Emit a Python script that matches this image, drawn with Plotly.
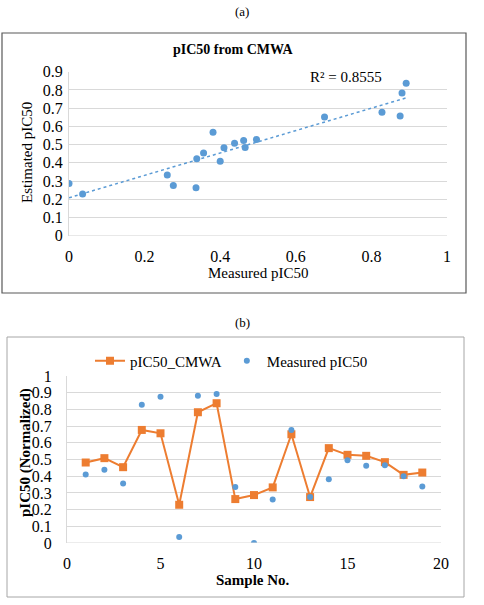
import plotly.graph_objects as go
import numpy as np

# sample numbers and values
samples = list(range(1, 20))
pic50_cmwa = [0.482, 0.508, 0.454, 0.677, 0.657, 0.229, 0.783, 0.837, 0.263, 0.287,
              0.333, 0.651, 0.275, 0.568, 0.528, 0.522, 0.484, 0.408, 0.422]
measured = [0.410, 0.438, 0.356, 0.828, 0.876, 0.036, 0.881, 0.892, 0.336, 0.0,
            0.260, 0.676, 0.276, 0.381, 0.496, 0.462, 0.466, 0.400, 0.338]
r2_label = "R² = 0.8555"

blue = "#5B9BD5"
orange = "#ED7D31"
grid = "#D9D9D9"
serif = "Liberation Serif"

W, H = 484, 605
def px(x):
    return x / W
def py(y):
    return 1 - y / H

def label(text, x, y, size=15, angle=0):
    return dict(text=text, xref="paper", yref="paper", x=px(x), y=py(y), showarrow=False,
                xanchor="center", yanchor="middle", textangle=angle,
                font=dict(family=serif, size=size, color="#000000"))

fig = go.Figure()

# (a) scatter + linear trend
fig.add_trace(go.Scatter(x=measured, y=pic50_cmwa, mode="markers",
                         marker=dict(color=blue, size=7), showlegend=False,
                         xaxis="x", yaxis="y"))
slope, icpt = np.polyfit(measured, pic50_cmwa, 1)
xs = [min(measured), max(measured)]
fig.add_trace(go.Scatter(x=xs, y=[slope * v + icpt for v in xs], mode="lines",
                         line=dict(color=blue, width=1.5, dash="dot"), showlegend=False,
                         xaxis="x", yaxis="y"))

# (b) line + measured dots
fig.add_trace(go.Scatter(x=samples, y=pic50_cmwa, mode="lines+markers", name="pIC50_CMWA",
                         line=dict(color=orange, width=2),
                         marker=dict(symbol="square", size=8, color=orange),
                         xaxis="x2", yaxis="y2"))
fig.add_trace(go.Scatter(x=samples, y=measured, mode="markers", name="Measured pIC50",
                         marker=dict(color=blue, size=6),
                         xaxis="x2", yaxis="y2"))

tick_font = dict(family=serif, size=16, color="#000000")

fig.update_layout(
    width=W, height=H,
    margin=dict(l=0, r=0, t=0, b=0),
    paper_bgcolor="white", plot_bgcolor="white",
    font=dict(family=serif, size=15, color="#000000"),
    xaxis=dict(domain=[px(69), px(447)], range=[0, 1], dtick=0.2, anchor="y",
               showgrid=False, zeroline=False, showline=False, automargin=False,
               tickfont=tick_font, ticks="", ticklabelstandoff=9),
    yaxis=dict(domain=[py(235.7), py(71.7)], range=[0, 0.9], dtick=0.1, anchor="x",
               showgrid=True, gridcolor=grid, gridwidth=1, zeroline=False, automargin=False,
               showline=True, linecolor=grid, linewidth=1,
               tickfont=tick_font, ticks="", tickformat="~g", ticklabelstandoff=2),
    xaxis2=dict(domain=[px(67), px(441)], range=[0, 20], dtick=5, anchor="y2",
                showgrid=False, zeroline=False, showline=False, automargin=False,
                tickfont=tick_font, ticks="", ticklabelstandoff=9),
    yaxis2=dict(domain=[py(543), py(376)], range=[0, 1], dtick=0.1, anchor="x2",
                showgrid=True, gridcolor=grid, gridwidth=1, zeroline=False, automargin=False,
                showline=True, linecolor=grid, linewidth=1,
                tickfont=tick_font, ticks="", tickformat="~g", ticklabelstandoff=11),
    legend=dict(orientation="h", x=px(90), y=py(361), xanchor="left", yanchor="middle",
                font=dict(family=serif, size=15), bgcolor="rgba(0,0,0,0)", itemwidth=30),
    shapes=[
        # x axis lines at zero
        dict(type="line", xref="x", yref="y", x0=0, x1=1, y0=0, y1=0,
             line=dict(color=grid, width=1)),
        dict(type="line", xref="x2", yref="y2", x0=0, x1=20, y0=0, y1=0,
             line=dict(color=grid, width=1)),
        # panel borders
        dict(type="rect", xref="paper", yref="paper", x0=px(2), x1=px(466), y0=py(293), y1=py(33),
             line=dict(color="#595959", width=1.2)),
        dict(type="rect", xref="paper", yref="paper", x0=px(7), x1=px(464), y0=py(597), y1=py(337),
             line=dict(color="#A6A6A6", width=1)),
    ],
    annotations=[
        label("(a)", 242, 12, size=13),
        label("(b)", 242, 322, size=13),
        label("<b>pIC50 from CMWA</b>", 233, 49, size=14),
        label(r2_label, 346, 77),
        # axis titles
        label("Measured pIC50", 258, 273),
        label("Estimated pIC50", 27, 153, angle=-90),
        label("<b>Sample No.</b>", 253, 580),
        label("<b>pIC50 (Normalized)</b>", 25, 453, angle=-90),
    ],
)

# drop the browser's default body margin so the figure sits at the page corner
fig.write_html("out.html", config={"displayModeBar": False},
               post_script="document.body.style.margin='0';")
